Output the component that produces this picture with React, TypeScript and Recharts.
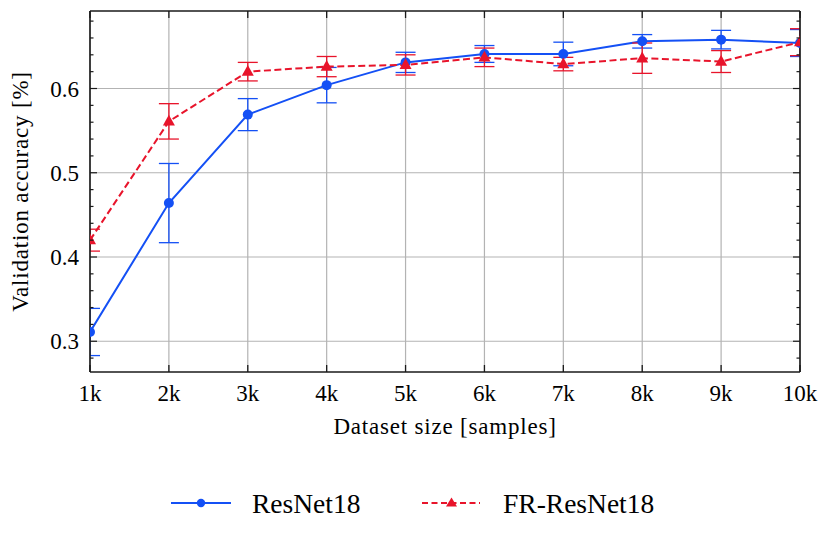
import React from 'react';
import { LineChart, Line, XAxis, YAxis, ReferenceLine, ErrorBar, Legend } from 'recharts';

const sizes = [1, 2, 3, 4, 5, 6, 7, 8, 9, 10];
const xTickLabels = ['1k', '2k', '3k', '4k', '5k', '6k', '7k', '8k', '9k', '10k'];
const resnet = [0.311, 0.464, 0.569, 0.604, 0.631, 0.641, 0.641, 0.656, 0.658, 0.654];
const resnetErr = [0.028, 0.047, 0.019, 0.021, 0.012, 0.010, 0.014, 0.008, 0.011, 0.016];
const frResnet = [0.420, 0.561, 0.620, 0.626, 0.628, 0.637, 0.629, 0.636, 0.632, 0.655];
const frResnetErr = [0.013, 0.021, 0.011, 0.012, 0.012, 0.011, 0.008, 0.018, 0.013, 0.016];
const yMajorTicks = [0.3, 0.4, 0.5, 0.6];
const yMinorTicks = [0.28, 0.32, 0.34, 0.36, 0.38, 0.42, 0.44, 0.46, 0.48, 0.52, 0.54, 0.56, 0.58, 0.62, 0.64, 0.66, 0.68];
const yTickLabels = ['0.3', '0.4', '0.5', '0.6'];
const seriesNames = ['ResNet18', 'FR-ResNet18'];
const xDomain = [1, 10];
const yDomain = [0.2635, 0.692];

const BLUE = '#1450F5';
const RED = '#E8142B';
const FRAME = '#1a1a1a';
const GRID = '#b3b3b3';
const FONT = '"Liberation Serif", "DejaVu Serif", serif';

const CHART_W = 831;
const CHART_H = 546;
const MARGIN = { top: 10, right: 30, left: 0, bottom: 0 };
const Y_AXIS_W = 90;
const X_AXIS_H = 174;
const PLOT = {
  x: MARGIN.left + Y_AXIS_W,
  y: MARGIN.top + 1,
  w: CHART_W - MARGIN.left - Y_AXIS_W - MARGIN.right - 1,
  h: CHART_H - MARGIN.top - 1 - X_AXIS_H - MARGIN.bottom,
};

const data = sizes.map((s, i) => ({
  size: s,
  resnet: resnet[i],
  resnetErr: resnetErr[i],
  fr: frResnet[i],
  frErr: frResnetErr[i],
}));

const yAllTicks = [...yMajorTicks, ...yMinorTicks].sort((a, b) => a - b);
const isMajorY = (v: number) => yMajorTicks.some((m) => Math.abs(m - v) < 1e-9);

const BottomTick = (props: any) => {
  const { x, y, payload } = props;
  const idx = sizes.indexOf(payload.value);
  return (
    <g>
      <line x1={x} x2={x} y1={y} y2={y - 7} stroke={FRAME} strokeWidth={1.3} />
      <text x={x} y={y + 28.5} textAnchor="middle" fontFamily={FONT} fontSize={23} fill="#000">
        {xTickLabels[idx]}
      </text>
    </g>
  );
};

const TopTick = (props: any) => {
  const { x, y } = props;
  return <line x1={x} x2={x} y1={y} y2={y + 7} stroke={FRAME} strokeWidth={1.3} />;
};

const LeftTick = (props: any) => {
  const { x, y, payload } = props;
  const major = isMajorY(payload.value);
  const idx = yMajorTicks.findIndex((m) => Math.abs(m - payload.value) < 1e-9);
  return (
    <g>
      <line x1={x} x2={x + (major ? 7 : 3.5)} y1={y} y2={y} stroke={FRAME} strokeWidth={1.2} />
      {major ? (
        <text x={x - 11} y={y + 8} textAnchor="end" fontFamily={FONT} fontSize={23} fill="#000">
          {yTickLabels[idx]}
        </text>
      ) : null}
    </g>
  );
};

const RightTick = (props: any) => {
  const { x, y, payload } = props;
  const major = isMajorY(payload.value);
  return <line x1={x} x2={x - (major ? 7 : 3.5)} y1={y} y2={y} stroke={FRAME} strokeWidth={1.2} />;
};

const TriangleDot = (props: any) => {
  const { cx, cy, index } = props;
  if (cx == null || cy == null) return <g key={`t${index}`} />;
  const s = 6;
  return (
    <polygon
      key={`t${index}`}
      points={`${cx},${cy - s * 1.1} ${cx - s},${cy + s * 0.7} ${cx + s},${cy + s * 0.7}`}
      fill={RED}
    />
  );
};

const renderLegend = () => (
  <svg width={831} height={40} style={{ display: 'block' }}>
    <line x1={171} x2={231} y1={20} y2={20} stroke={BLUE} strokeWidth={2} />
    <circle cx={201} cy={20} r={4.2} fill={BLUE} />
    <text x={252} y={29.5} fontFamily={FONT} fontSize={27.5} fill="#000">
      {seriesNames[0]}
    </text>
    <line x1={422} x2={480} y1={20} y2={20} stroke={RED} strokeWidth={2} strokeDasharray="6 3.5" />
    <polygon points="451.5,14.5 446,23.5 457,23.5" fill={RED} />
    <text x={503} y={29.5} fontFamily={FONT} fontSize={27.5} fill="#000">
      {seriesNames[1]}
    </text>
  </svg>
);

export default function App() {
  return (
    <div style={{ position: 'absolute', left: 0, top: 0, width: CHART_W, height: CHART_H, background: '#fff' }}>
      <svg width={0} height={0} style={{ position: 'absolute' }}>
        <defs>
          <clipPath id="plotAreaClip">
            <rect x={PLOT.x} y={PLOT.y} width={PLOT.w} height={PLOT.h} />
          </clipPath>
        </defs>
      </svg>
      <LineChart width={CHART_W} height={CHART_H} data={data} margin={MARGIN}>
        {yMajorTicks.map((v) => (
          <ReferenceLine key={`gy${v}`} y={v} yAxisId="left" xAxisId="bottom" stroke={GRID} strokeWidth={1.2} />
        ))}
        {sizes.map((v) => (
          <ReferenceLine key={`gx${v}`} x={v} yAxisId="left" xAxisId="bottom" stroke={GRID} strokeWidth={1.2} />
        ))}
        <XAxis
          xAxisId="bottom"
          dataKey="size"
          type="number"
          domain={xDomain}
          allowDataOverflow
          ticks={sizes}
          interval={0}
          height={X_AXIS_H}
          tickSize={0}
          tickMargin={0}
          tickLine={false}
          tick={BottomTick}
          axisLine={{ stroke: FRAME, strokeWidth: 1.6 }}
          label={{
            value: 'Dataset size [samples]',
            position: 'insideTop',
            offset: 46,
            fill: '#000',
            style: { fontFamily: FONT, fontSize: 23, letterSpacing: 0.8, fill: '#000' },
          }}
        />
        <XAxis
          xAxisId="top"
          orientation="top"
          dataKey="size"
          type="number"
          domain={xDomain}
          allowDataOverflow
          ticks={sizes}
          interval={0}
          height={1}
          tickSize={0}
          tickMargin={0}
          tickLine={false}
          tick={TopTick}
          axisLine={{ stroke: FRAME, strokeWidth: 1.6 }}
        />
        <YAxis
          yAxisId="left"
          type="number"
          domain={yDomain}
          allowDataOverflow
          ticks={yAllTicks}
          interval={0}
          width={Y_AXIS_W}
          tickSize={0}
          tickMargin={0}
          tickLine={false}
          tick={LeftTick}
          axisLine={{ stroke: FRAME, strokeWidth: 1.6 }}
          label={{
            value: 'Validation accuracy [%]',
            angle: -90,
            position: 'center',
            dx: -25,
            fill: '#000',
            style: { fontFamily: FONT, fontSize: 23, letterSpacing: 0.8, fill: '#000', textAnchor: 'middle' },
          }}
        />
        <YAxis
          yAxisId="right"
          orientation="right"
          type="number"
          domain={yDomain}
          allowDataOverflow
          ticks={yAllTicks}
          interval={0}
          width={1}
          tickSize={0}
          tickMargin={0}
          tickLine={false}
          tick={RightTick}
          axisLine={{ stroke: FRAME, strokeWidth: 1.6 }}
        />
        <Line
          xAxisId="bottom"
          yAxisId="left"
          type="linear"
          dataKey="resnet"
          name={seriesNames[0]}
          stroke={BLUE}
          strokeWidth={2}
          dot={{ r: 5, fill: BLUE, stroke: BLUE, strokeWidth: 0 }}
          activeDot={false}
          isAnimationActive={false}
        >
          <ErrorBar
            dataKey="resnetErr"
            width={10}
            stroke={BLUE}
            strokeWidth={1.3}
            direction="y"
            clipPath="url(#plotAreaClip)"
          />
        </Line>
        <Line
          xAxisId="bottom"
          yAxisId="left"
          type="linear"
          dataKey="fr"
          name={seriesNames[1]}
          stroke={RED}
          strokeWidth={2}
          strokeDasharray="7 3.5"
          dot={TriangleDot}
          activeDot={false}
          isAnimationActive={false}
        >
          <ErrorBar
            dataKey="frErr"
            width={10}
            stroke={RED}
            strokeWidth={1.3}
            direction="y"
            clipPath="url(#plotAreaClip)"
          />
        </Line>
        <Legend
          layout="horizontal"
          verticalAlign="middle"
          align="center"
          wrapperStyle={{ position: 'absolute', top: 483, left: 0, width: 831, height: 40 }}
          content={renderLegend}
        />
      </LineChart>
    </div>
  );
}
